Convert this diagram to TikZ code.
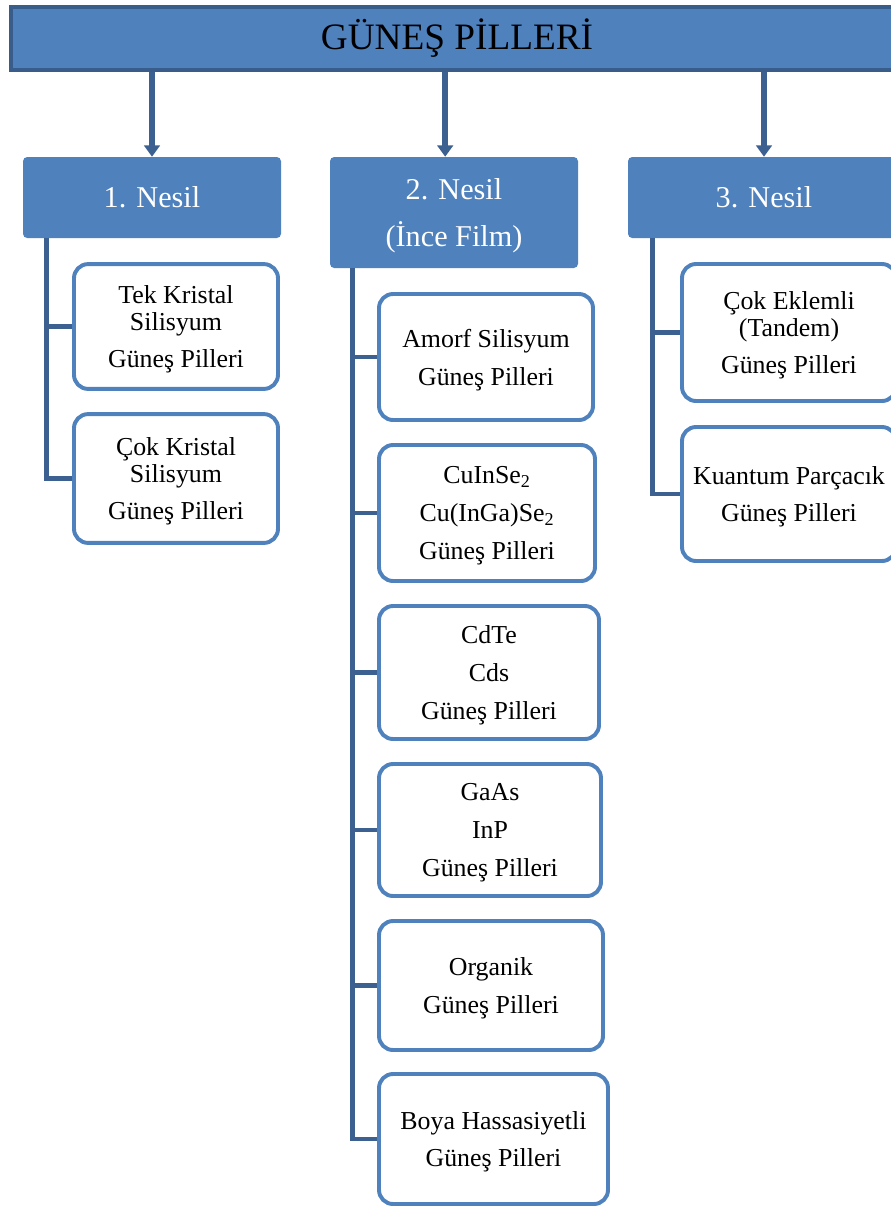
\documentclass[tikz,border=0pt]{standalone}
\usepackage{fontspec}
\setmainfont{Liberation Serif}
\usepackage{xcolor}
\usetikzlibrary{arrows.meta,positioning}
\definecolor{hdrblue}{RGB}{79,129,189}
\definecolor{hdrline}{RGB}{56,93,138}
\definecolor{linkblue}{RGB}{60,97,144}
\definecolor{cellline}{RGB}{79,129,189}

\begin{document}
\begin{tikzpicture}[
  headbar/.style={rectangle, draw=hdrline, line width=2.8pt, fill=hdrblue,
                  minimum width=22.3cm, minimum height=1.575cm, inner sep=0pt,
                  font=\fontsize{26.5}{30}\selectfont},
  gen/.style={rectangle, fill=hdrblue, rounded corners=3pt, text=white,
              align=center, inner sep=0pt, font=\fontsize{21.5}{33}\selectfont},
  cell/.style={rectangle, draw=cellline, line width=2.8pt, fill=white,
               rounded corners=10pt, align=center, inner sep=0pt, text depth=-2pt,
               font=\fontsize{18.4}{27}\selectfont},
  feed/.style={linkblue, line width=4.3pt, -{Triangle[width=11pt,length=8pt]}},
  branch/.style={linkblue, line width=3.5pt},
]
\useasboundingbox (0,0) rectangle (22.275,-30.15);

% Title bar
\node[headbar] (main) at (11.425,-0.9625) {GÜNEŞ PİLLERİ};

% Generations
\node[gen, minimum width=6.45cm, minimum height=2.025cm] (gen1) at (3.8,-4.9375)  {1. Nesil};
\node[gen, minimum width=6.2cm,  minimum height=2.775cm, text depth=-2pt] (gen2) at (11.35,-5.3125) {2. Nesil\\(İnce Film)};
\node[gen, minimum width=6.8cm,  minimum height=2.025cm] (gen3) at (19.1,-4.9375)  {3. Nesil};

% Arrows from the title
\draw[feed] (main.south -| gen1.north) -- (gen1.north);
\draw[feed] ([xshift=-0.22cm]main.south -| gen2.north) -- ([xshift=-0.22cm]gen2.north);
\draw[feed] (main.south -| gen3.north) -- (gen3.north);

% First generation cells
\node[cell, minimum width=5.1cm, minimum height=3.12cm] (k1a) at (4.4,-8.1625)
  {Tek Kristal\\[-7.8pt]Silisyum\\Güneş Pilleri};
\node[cell, minimum width=5.1cm, minimum height=3.22cm] (k1b) at (4.4,-11.9625)
  {Çok Kristal\\[-7.8pt]Silisyum\\Güneş Pilleri};

% Second generation cells
\node[cell, minimum width=5.35cm,  minimum height=3.15cm] (k2a) at (12.15,-8.925)
  {Amorf Silisyum\\Güneş Pilleri};
\node[cell, minimum width=5.4cm,   minimum height=3.4cm]  (k2b) at (12.175,-12.825)
  {CuInSe\textsubscript{2}\\Cu(InGa)Se\textsubscript{2}\\Güneş Pilleri};
\node[cell, minimum width=5.5cm,   minimum height=3.325cm] (k2c) at (12.225,-16.8125)
  {CdTe\\Cds\\Güneş Pilleri};
\node[cell, minimum width=5.55cm,  minimum height=3.3cm]  (k2d) at (12.25,-20.75)
  {GaAs\\InP\\Güneş Pilleri};
\node[cell, minimum width=5.6cm,   minimum height=3.225cm] (k2e) at (12.275,-24.6375)
  {Organik\\Güneş Pilleri};
\node[cell, minimum width=5.725cm, minimum height=3.25cm] (k2f) at (12.3375,-28.475)
  {Boya Hassasiyetli\\Güneş Pilleri};

% Third generation cells
\node[cell, minimum width=5.35cm, minimum height=3.425cm] (k3a) at (19.725,-8.3125)
  {Çok Eklemli\\[-7.8pt](Tandem)\\Güneş Pilleri};
\node[cell, minimum width=5.35cm, minimum height=3.35cm] (k3b) at (19.725,-12.35)
  {Kuantum Parçacık\\Güneş Pilleri};

% Branches
\draw[branch] ([xshift=0.6cm]gen1.south west) |- (k1b.west);
\draw[branch] ([xshift=0.6cm]gen1.south west |- k1a.west) -- (k1a.west);

\draw[branch] ([xshift=0.575cm]gen2.south west) |- (k2f.west);
\draw[branch] ([xshift=0.575cm]gen2.south west |- k2a.west) -- (k2a.west);
\draw[branch] ([xshift=0.575cm]gen2.south west |- k2b.west) -- (k2b.west);
\draw[branch] ([xshift=0.575cm]gen2.south west |- k2c.west) -- (k2c.west);
\draw[branch] ([xshift=0.575cm]gen2.south west |- k2d.west) -- (k2d.west);
\draw[branch] ([xshift=0.575cm]gen2.south west |- k2e.west) -- (k2e.west);

\draw[branch] ([xshift=0.625cm]gen3.south west) |- (k3b.west);
\draw[branch] ([xshift=0.625cm]gen3.south west |- k3a.west) -- (k3a.west);
\end{tikzpicture}
\end{document}
